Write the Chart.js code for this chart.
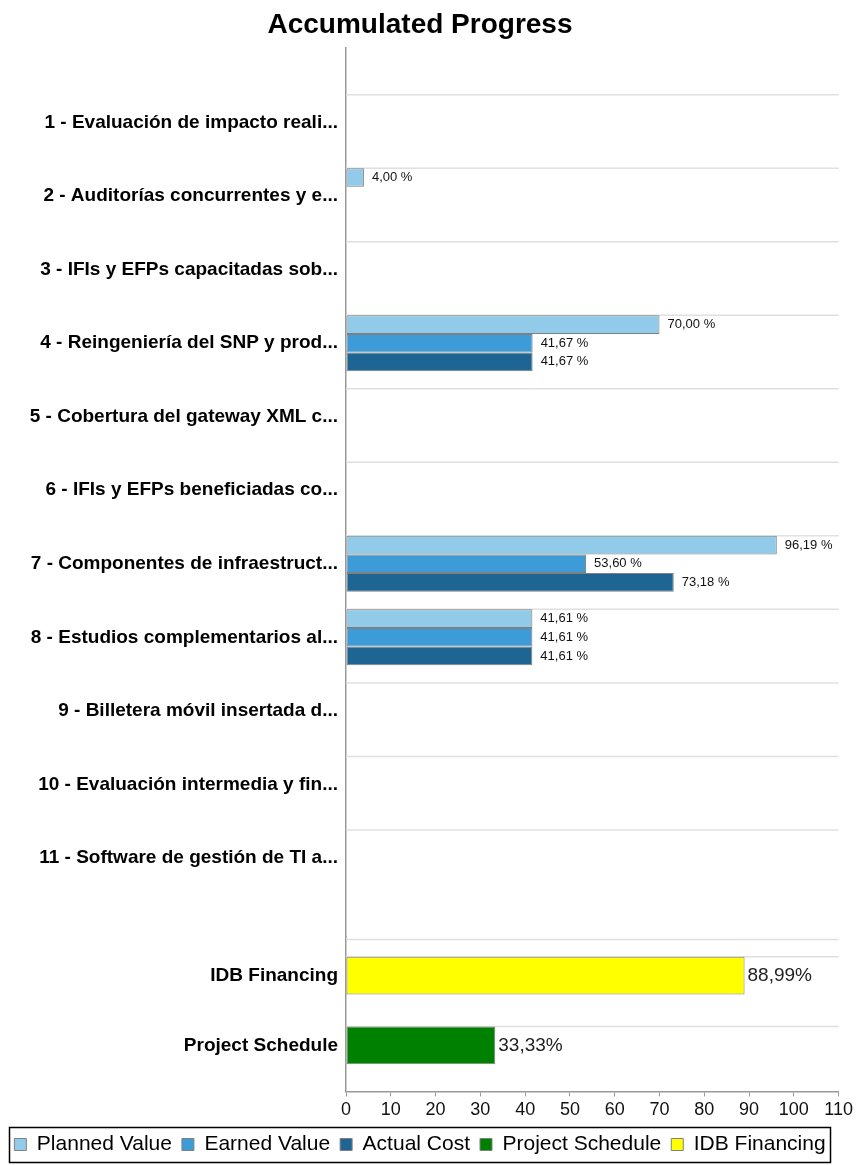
<!DOCTYPE html>
<html>
<head>
<meta charset="utf-8">
<title>Accumulated Progress</title>
<script src="https://cdn.jsdelivr.net/npm/chart.js@4.4.0/dist/chart.umd.min.js"></script>
<style>
  html, body { margin: 0; padding: 0; background: #fff; }
  #wrap { width: 856px; height: 1165px; position: relative; }
</style>
</head>
<body>
<div id="wrap"><canvas id="progress"></canvas></div>
<script>
// Products (upper block) and their three progress series, in %
const products = [
  '1 - Evaluación de impacto reali...',
  '2 - Auditorías concurrentes y e...',
  '3 - IFIs y EFPs capacitadas sob...',
  '4 - Reingeniería del SNP y prod...',
  '5 - Cobertura del gateway XML c...',
  '6 - IFIs y EFPs beneficiadas co...',
  '7 - Componentes de infraestruct...',
  '8 - Estudios complementarios al...',
  '9 - Billetera móvil insertada d...',
  '10 - Evaluación intermedia y fin...',
  '11 - Software de gestión de TI a...'
];
const plannedValue = [null, 4.00, null, 70.00, null, null, 96.19, 41.61, null, null, null];
const earnedValue  = [null, null, null, 41.67, null, null, 53.60, 41.61, null, null, null];
const actualCost   = [null, null, null, 41.67, null, null, 73.18, 41.61, null, null, null];

// Summary rows (lower block)
const summaryRows     = ['IDB Financing', 'Project Schedule'];
const idbFinancing    = [88.99, null];
const projectSchedule = [null, 33.33];

// Value axis
const xMin = 0, xMax = 110, xStep = 10;

const FONT = '"Liberation Sans", Arial, sans-serif';
Chart.defaults.font.family = FONT;
Chart.defaults.color = '#000';

const fmt = (v) => v.toFixed(2).replace('.', ',');
// rows sit on a numeric index axis so the blocks can have their own margins
const toPoints = (arr) => arr.map((v, i) => ({ x: v, y: i }));

// light row lines at the top of each bar group + a line between the two blocks
const rowLines = {
  id: 'rowLines',
  beforeDatasetsDraw(chart) {
    const { ctx, chartArea } = chart;
    const top = chart.scales.yTop, bottom = chart.scales.yBottom;
    const ys = [];
    products.forEach((_, i) => ys.push(top.getPixelForValue(i - 0.38)));
    ys.push(bottom.top + 3);
    summaryRows.forEach((_, i) => ys.push(bottom.getPixelForValue(i - 0.27)));
    ctx.save();
    ctx.strokeStyle = '#e0e0e0';
    ctx.lineWidth = 1.5;
    ys.forEach(y => {
      ctx.beginPath();
      ctx.moveTo(chartArea.left, y);
      ctx.lineTo(chartArea.right, y);
      ctx.stroke();
    });
    ctx.restore();
  }
};

// value labels to the right of each bar
const valueLabels = {
  id: 'valueLabels',
  afterDatasetsDraw(chart) {
    const { ctx } = chart;
    ctx.save();
    ctx.textBaseline = 'middle';
    ctx.textAlign = 'left';
    chart.data.datasets.forEach((ds, di) => {
      const meta = chart.getDatasetMeta(di);
      const summary = ds.yAxisID === 'yBottom';
      meta.data.forEach((bar, i) => {
        const v = ds.data[i].x;
        if (v == null) return;
        if (summary) {
          ctx.font = '19px ' + FONT;
          ctx.fillStyle = '#222';
          ctx.fillText(fmt(v) + '%', bar.x + 3, bar.y);
        } else {
          ctx.font = '13px ' + FONT;
          ctx.fillStyle = '#111';
          ctx.fillText(fmt(v) + ' %', bar.x + 8, bar.y);
        }
      });
    });
    ctx.restore();
  }
};

// black frame round the legend
const legendFrame = {
  id: 'legendFrame',
  afterDraw(chart) {
    const boxes = chart.legend && chart.legend.legendHitBoxes;
    if (!boxes || !boxes.length) return;
    const left = Math.min(...boxes.map(b => b.left)) - 5;
    const right = Math.max(...boxes.map(b => b.left + b.width)) + 5;
    const top = Math.min(...boxes.map(b => b.top)) - 7;
    const bot = Math.max(...boxes.map(b => b.top + b.height)) + 7;
    const { ctx } = chart;
    ctx.save();
    ctx.strokeStyle = '#000';
    ctx.lineWidth = 1.5;
    ctx.strokeRect(Math.round(left) + 0.5, Math.round(top) + 0.5, Math.round(right - left), Math.round(bot - top));
    ctx.restore();
  }
};

// indexAxis is set per dataset so the three product series group only among themselves
const barStyle = { indexAxis: 'y', borderColor: '#808080', borderWidth: 1, borderSkipped: false };
const rowBar = { ...barStyle, categoryPercentage: 0.76, barPercentage: 1 };
const summaryBar = { ...barStyle, grouped: false, categoryPercentage: 0.54, barPercentage: 1 };

new Chart(document.getElementById('progress'), {
  type: 'bar',
  data: {
    datasets: [
      { label: 'Planned Value', data: toPoints(plannedValue), yAxisID: 'yTop', backgroundColor: '#92cbea', ...rowBar },
      { label: 'Earned Value', data: toPoints(earnedValue), yAxisID: 'yTop', backgroundColor: '#3d9bd7', ...rowBar },
      { label: 'Actual Cost', data: toPoints(actualCost), yAxisID: 'yTop', backgroundColor: '#1f6594', ...rowBar },
      { label: 'Project Schedule', data: toPoints(projectSchedule), yAxisID: 'yBottom', backgroundColor: '#008000', ...summaryBar },
      { label: 'IDB Financing', data: toPoints(idbFinancing), yAxisID: 'yBottom', backgroundColor: '#ffff00', ...summaryBar }
    ]
  },
  options: {
    responsive: true,
    maintainAspectRatio: false,
    animation: false,
    layout: { padding: { left: 0, right: 16, top: 0, bottom: 0 } },
    plugins: {
      title: {
        display: true,
        text: 'Accumulated Progress',
        font: { size: 28, weight: 'bold' },
        color: '#000',
        padding: { top: 8, bottom: 6 }
      },
      legend: {
        position: 'bottom',
        labels: { font: { size: 21 }, color: '#000', boxWidth: 12, boxHeight: 12, padding: 10 }
      },
      tooltip: { enabled: false }
    },
    scales: {
      x: {
        type: 'linear',
        position: 'bottom',
        offset: false,
        min: xMin, max: xMax,
        ticks: { stepSize: xStep, font: { size: 18 }, color: '#111', padding: 3 },
        grid: { display: true, offset: false, drawOnChartArea: false, drawTicks: true, tickLength: 5, color: '#999' },
        border: { display: true, color: '#999', width: 1.5 }
      },
      yTop: {
        type: 'linear',
        position: 'left',
        stack: 'rows',
        stackWeight: 890,
        weight: 2,
        reverse: true,
        offset: false,
        min: -1.02, max: 11.07,
        afterBuildTicks: (axis) => { axis.ticks = products.map((_, i) => ({ value: i })); },
        afterFit: (axis) => { axis.width = 346; },
        ticks: { autoSkip: false, callback: (v) => products[v], font: { size: 19, weight: 'bold' }, color: '#000', padding: 0 },
        grid: { display: false, offset: false },
        border: { display: true, color: '#999', width: 1.5 }
      },
      yBottom: {
        type: 'linear',
        position: 'left',
        stack: 'rows',
        stackWeight: 155,
        weight: 1,
        reverse: true,
        offset: false,
        min: -0.557, max: 1.657,
        afterBuildTicks: (axis) => { axis.ticks = summaryRows.map((_, i) => ({ value: i })); },
        afterFit: (axis) => { axis.width = 346; },
        ticks: { autoSkip: false, callback: (v) => summaryRows[v], font: { size: 19, weight: 'bold' }, color: '#000', padding: 0 },
        grid: { display: false, offset: false },
        border: { display: true, color: '#999', width: 1.5 }
      }
    }
  },
  plugins: [rowLines, valueLabels, legendFrame]
});
</script>
</body>
</html>
